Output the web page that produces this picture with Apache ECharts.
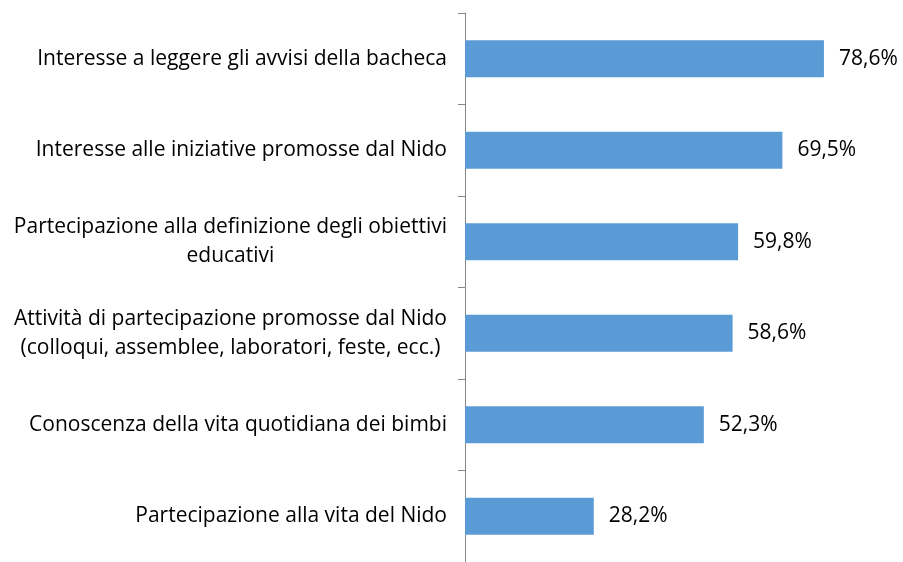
<!DOCTYPE html>
<html lang="it">
<head>
	<meta charset="utf-8">
	<title>Partecipazione al Nido</title>
	<style>
		html, body { margin: 0; padding: 0; background: #fff; }
		#mainBar { width: 903px; height: 562px; }
	</style>
</head>
<body>
    <div id="mainBar"></div>
	<script type="text/javascript" src="https://cdn.jsdelivr.net/npm/echarts@6/dist/echarts.min.js"></script>
	<script type="text/javascript">
	    // categorie (dall'alto verso il basso)
	    var categories = [
	        'Interesse a leggere gli avvisi della bacheca',
	        'Interesse alle iniziative promosse dal Nido',
	        'Partecipazione alla definizione degli obiettivi\neducativi',
	        'Attività di partecipazione promosse dal Nido\n(colloqui, assemblee, laboratori, feste, ecc.)',
	        'Conoscenza della vita quotidiana dei bimbi',
	        'Partecipazione alla vita del Nido'
	    ];
	    var values = [78.6, 69.5, 59.8, 58.6, 52.3, 28.2];

	    var myChart = echarts.init(document.getElementById('mainBar'));
	    var font = '"Open Sans", sans-serif';

	    myChart.setOption({
	        animation: false,
	        grid: { left: 465, right: 27, top: 13, height: 553 },
	        xAxis: {
	            type: 'value',
	            min: 0,
	            max: 90,
	            show: false
	        },
	        yAxis: {
	            type: 'category',
	            inverse: true,
	            data: categories,
	            axisLine: { show: true, lineStyle: { color: '#868686', width: 1 } },
	            axisTick: { show: true, inside: false, length: 7, lineStyle: { color: '#868686', width: 1 } },
	            axisLabel: {
	                margin: 18,
	                align: 'right',
	                formatter: function (v) {
	                    return v.split('\n').map(function (l) { return '{c|' + l + '}'; }).join('\n');
	                },
	                rich: {
	                    c: { align: 'center', fontFamily: font, fontSize: 21, color: '#000', lineHeight: 29 }
	                }
	            }
	        },
	        series: [{
	            type: 'bar',
	            data: values,
	            barWidth: 37,
	            itemStyle: { color: '#5B9BD5' },
	            label: {
	                show: true,
	                position: 'right',
	                distance: 15,
	                fontFamily: font,
	                fontSize: 21,
	                color: '#000',
	                formatter: function (p) { return p.value.toFixed(1).replace('.', ',') + '%'; }
	            }
	        }]
	    });
	</script>
</body>
</html>
